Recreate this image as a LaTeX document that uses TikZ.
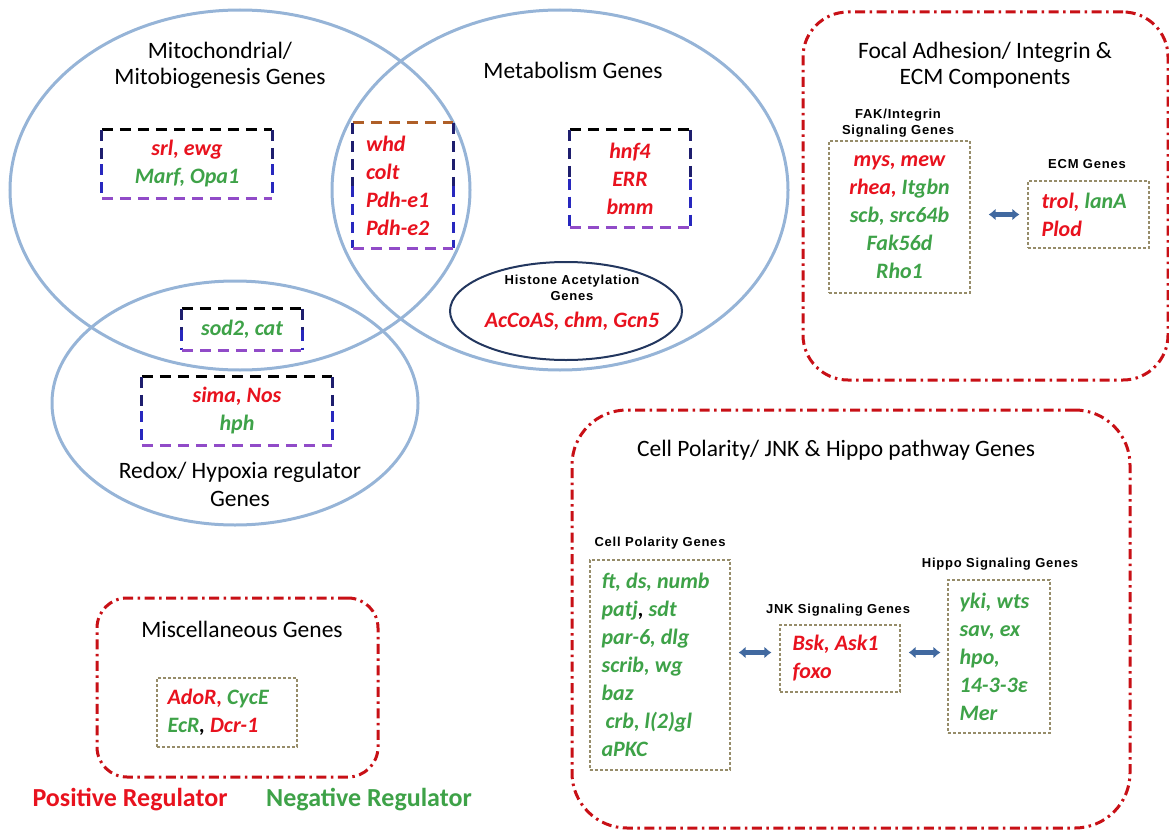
\documentclass[tikz,border=0pt]{standalone}
\usepackage{fontspec}
\setmainfont{Carlito}
\newfontfamily\hdfont{Liberation Sans}[LetterSpace=6]
\usetikzlibrary{arrows.meta}
\definecolor{posred}{RGB}{232,18,30}
\definecolor{neggreen}{RGB}{62,162,72}
\definecolor{vennblue}{RGB}{150,180,215}
\definecolor{navyline}{RGB}{35,55,95}
\definecolor{boxred}{RGB}{200,16,22}
\definecolor{olivedash}{RGB}{150,140,105}
\definecolor{arrowblue}{RGB}{65,105,160}
\definecolor{dashnavy}{RGB}{30,30,110}
\definecolor{dashblue}{RGB}{40,40,190}
\definecolor{dashpurple}{RGB}{145,75,200}
\definecolor{dashbrown}{RGB}{175,95,40}
\newcommand{\redg}[1]{\textcolor{posred}{#1}}
\newcommand{\grng}[1]{\textcolor{neggreen}{#1}}

\begin{document}
\begin{tikzpicture}[x=1pt, y=-1pt,
  venn/.style={draw=vennblue, line width=3pt},
  ttl/.style={font=\fontsize{23.5}{26}\selectfont, align=center},
  gene/.style={font=\fontsize{22}{28}\selectfont\bfseries\itshape, align=center, inner sep=0pt},
  hdr/.style={font=\hdfont\bfseries\fontsize{13}{16}\selectfont, align=center},
  dside/.style={line width=3pt, dash pattern=on 11pt off 7pt},
  grp/.style={draw=boxred, line width=3pt, dash pattern=on 10pt off 4.5pt on 2.5pt off 4.5pt},
  gbox/.style={gene, draw=olivedash, line width=1.2pt, dash pattern=on 3pt off 2pt},
  dbl/.style={arrowblue, line width=5pt, {Latex[length=7pt,width=12pt]}-{Latex[length=7pt,width=12pt]}}]
  \useasboundingbox (0,0) rectangle (1169,832);

  % venn part
  \draw[venn] (240,190) ellipse [x radius=230pt, y radius=180pt];
  \draw[venn] (560,190) ellipse [x radius=228pt, y radius=180pt];
  \draw[venn] (235,403) ellipse [x radius=183pt, y radius=122pt];
  \draw[navyline, line width=2pt] (566,311) ellipse [x radius=116pt, y radius=49pt];

  \node[ttl] (mito) at (220,65) {Mitochondrial/\\Mitobiogenesis Genes};
  \node[ttl] (meta) at (573,70) {Metabolism Genes};
  \node[ttl, font=\fontsize{23.5}{28}\selectfont] (redox) at (240,484) {Redox/ Hypoxia regulator\\Genes};
  \node[hdr] (histh) at (572,288) {Histone Acetylation\\Genes};
  \node[gene] (hist) at (572,321) {\redg{AcCoAS, chm, Gcn5}};

  \node[gene, minimum width=170pt, minimum height=68pt] (srl) at (187,164)
    {\redg{srl, ewg}\\\grng{Marf, Opa1}};
  \node[minimum width=100pt, minimum height=125pt] (whd) at (403,185.5) {};
  \node[gene, anchor=west, align=left] (whdtx) at ([xshift=13pt]whd.west)
    {\redg{whd}\\\redg{colt}\\\redg{Pdh-e1}\\\redg{Pdh-e2}};
  \node[gene, minimum width=120pt, minimum height=97pt] (hnf) at (630,178.5)
    {\redg{hnf4}\\\redg{ERR}\\\redg{bmm}};
  \node[gene, minimum width=120pt, minimum height=41pt] (sod) at (242,329.5)
    {\grng{sod2, cat}};
  \node[gene, minimum width=190pt, minimum height=68pt] (sima) at (237,411)
    {\redg{sima, Nos}\\\grng{hph}};
  \foreach \b/\c in {srl/black, whd/dashbrown, hnf/black, sod/black, sima/black} {
    \draw[dside, \c] (\b.north west) -- (\b.north east);
    \draw[dside, dashnavy] (\b.north west) -- (\b.west);
    \draw[dside, dashnavy] (\b.north east) -- (\b.east);
    \draw[dside, dashblue] (\b.west) -- (\b.south west);
    \draw[dside, dashblue] (\b.east) -- (\b.south east);
    \draw[dside, dashpurple] (\b.south west) -- (\b.south east);
  }

  % focal adhesion
  \node[grp, rounded corners=45pt, minimum width=365pt, minimum height=368pt] (focal) at (985.5,196) {};
  \node[ttl] (focalt) at (985,65) {Focal Adhesion/ Integrin \&\\ECM Components};
  \node[hdr] (fakh) at (898,123) {FAK/Integrin\\Signaling Genes};
  \node[gbox, minimum width=141pt, minimum height=152pt] (fak) at (899.5,217)
    {\redg{mys, mew}\\\redg{rhea,} \grng{Itgbn}\\\grng{scb, src64b}\\\grng{Fak56d}\\\grng{Rho1}};
  \node[hdr] (ecmh) at (1087,164) {ECM Genes};
  \node[gbox, minimum width=121pt, minimum height=67pt] (ecm) at (1088.5,214.5) {};
  \node[gene, anchor=west, align=left] (ecmtx) at ([xshift=14pt]ecm.west)
    {\redg{trol,} \grng{lanA}\\\redg{Plod}};
  \draw[dbl, shorten <=18pt, shorten >=8pt] (fak.east |- ecm.west) -- (ecm.west);

  % cell polarity
  \node[grp, rounded corners=55pt, minimum width=558pt, minimum height=418pt] (cpol) at (851,619) {};
  \node[ttl] (cpolt) at (836,450) {Cell Polarity/ JNK \& Hippo pathway Genes};
  \node[hdr] (cph) at (660,543) {Cell Polarity Genes};
  \node[gbox, minimum width=140pt, minimum height=210pt] (cpg) at (660,665) {};
  \node[gene, anchor=west, align=left] (cptx) at ([xshift=12pt]cpg.west)
    {\grng{ft, ds, numb}\\\grng{patj}, \grng{sdt}\\\grng{par-6, dlg}\\\grng{scrib, wg}\\\grng{baz}\\\hspace{4pt}\grng{crb, l(2)gl}\\\grng{aPKC}};
  \node[hdr] (jnkh) at (838,610) {JNK Signaling Genes};
  \node[gbox, minimum width=120pt, minimum height=67pt] (jnk) at (840,658.5) {};
  \node[gene, anchor=west, align=left] (jnktx) at ([xshift=13pt]jnk.west)
    {\redg{Bsk, Ask1}\\\redg{foxo}};
  \node[hdr] (hpoh) at (1000,564) {Hippo Signaling Genes};
  \node[gbox, minimum width=102pt, minimum height=153pt] (hpo) at (999,656.5) {};
  \node[gene, anchor=west, align=left] (hpotx) at ([xshift=12pt]hpo.west)
    {\grng{yki, wts}\\\grng{sav, ex}\\\grng{hpo,}\\\grng{14-3-3ε}\\\grng{Mer}};
  \coordinate (jin) at ([yshift=6pt]jnk.west);
  \coordinate (jout) at ([yshift=6pt]jnk.east);
  \draw[dbl, shorten <=8pt, shorten >=8pt] (jin -| cpg.east) -- (jin);
  \draw[dbl, shorten <=8pt, shorten >=7pt] (jout) -- (jout -| hpo.west);

  % miscellaneous
  \node[grp, rounded corners=30pt, minimum width=281pt, minimum height=179pt] (miscb) at (237.5,687.5) {};
  \node[ttl] (misct) at (242,629) {Miscellaneous Genes};
  \node[gbox, minimum width=140pt, minimum height=69pt] (misc) at (227,712.5) {};
  \node[gene, anchor=west, align=left] (misctx) at ([xshift=11pt]misc.west)
    {\redg{AdoR,} \grng{CycE}\\\grng{EcR}, \redg{Dcr-1}};

  % legend
  \node[font=\fontsize{26}{30}\selectfont\bfseries, text=posred] (pos) at (130,800) {Positive Regulator};
  \node[font=\fontsize{26}{30}\selectfont\bfseries, text=neggreen] (neg) at (369,800) {Negative Regulator};
\end{tikzpicture}
\end{document}
